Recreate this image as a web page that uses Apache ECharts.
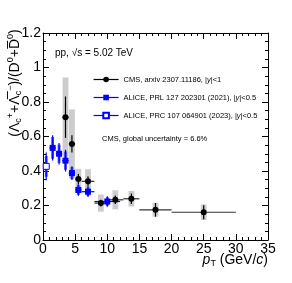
<!DOCTYPE html>
<html><head><meta charset="utf-8">
<script src="https://cdn.jsdelivr.net/npm/echarts@6/dist/echarts.min.js"></script>
<style>html,body{margin:0;padding:0;background:#fff}#c{width:292px;height:283px}</style>
</head><body><div id="c"></div>
<script>
// ---- data ----
const cmsX    = [3.5, 4.5, 5.5, 7, 9, 11.25, 13.75, 17.5, 25];
const cmsXlo  = [3, 4, 5, 6, 8, 10, 12.5, 15, 20];
const cmsXhi  = [4, 5, 6, 8, 10, 12.5, 15, 20, 30];
const cmsY    = [0.712, 0.557, 0.353, 0.340, 0.214, 0.233, 0.239, 0.175, 0.161];
const cmsStat = [0.12, 0.05, 0.03, 0.03, 0.02, 0.025, 0.03, 0.04, 0.04];
const cmsSys  = [0.23, 0.20, 0.06, 0.07, 0.05, 0.055, 0.045, 0.04, 0.045];

const a21X    = [1.5, 2.5, 3.5, 4.5, 5.5, 7, 10];
const a21Xlo  = [1, 2, 3, 4, 5, 6, 8];
const a21Xhi  = [2, 3, 4, 5, 6, 8, 12];
const a21Y    = [0.534, 0.500, 0.460, 0.388, 0.290, 0.280, 0.223];
const a21Stat = [0.073, 0.063, 0.063, 0.040, 0.033, 0.030, 0.030];
const a21Sys  = [0.063, 0.053, 0.053, 0.035, 0.028, 0.025, 0.025];

const a23X    = [0.5];
const a23Xlo  = [0];
const a23Xhi  = [1];
const a23Y    = [0.427];
const a23Stat = [0.08];
const a23Sys  = [0.06];

const xTicks = {min: 0, max: 35, interval: 5};
const yTicks = {min: 0, max: 1.2, interval: 0.2};

const nameCMS = 'CMS, arxiv 2307.11186, |y|<1';
const nameA21 = 'ALICE, PRL 127 202301 (2021), |y|<0.5';
const nameA23 = 'ALICE, PRC 107 064901 (2023), |y|<0.5';
const legendRich = {};
legendRich[nameCMS] = 'CMS, arxiv 2307.11186, |{i|y}|<1';
legendRich[nameA21] = 'ALICE, PRL 127 202301 (2021), |{i|y}|<0.5';
legendRich[nameA23] = 'ALICE, PRC 107 064901 (2023), |{i|y}|<0.5';

const FONT = '"Liberation Sans", Arial, Helvetica, sans-serif';
const BLUE = '#0000ff';
const BLUEBOX = '#4a4aff';

function boxSeries(xs, ys, sys, halfW, color, z) {
  return {
    type: 'custom', z: z, silent: true, clip: false,
    data: xs.map((x, i) => [x, ys[i], sys[i]]),
    renderItem(params, api) {
      const x = api.value(0), y = api.value(1), s = api.value(2);
      const p1 = api.coord([x - halfW, y + s]);
      const p2 = api.coord([x + halfW, y - s]);
      return {type: 'rect', shape: {x: p1[0], y: p1[1], width: p2[0] - p1[0], height: p2[1] - p1[1]},
              style: {fill: color}};
    }
  };
}
function barSeries(xs, ys, stat, lo, hi, vcolor, hcolor, z) {
  return {
    type: 'custom', z: z, silent: true, clip: false,
    data: xs.map((x, i) => [x, ys[i], stat[i], lo[i], hi[i]]),
    renderItem(params, api) {
      const x = api.value(0), y = api.value(1), s = api.value(2), l = api.value(3), h = api.value(4);
      const t = api.coord([x, y + s]), b = api.coord([x, y - s]);
      const L = api.coord([l, y]), R = api.coord([h, y]);
      return {type: 'group', children: [
        {type: 'line', shape: {x1: L[0], y1: L[1], x2: R[0], y2: R[1]}, style: {stroke: hcolor, lineWidth: 1.2}},
        {type: 'line', shape: {x1: t[0], y1: t[1], x2: b[0], y2: b[1]}, style: {stroke: vcolor, lineWidth: 1.2}}
      ]};
    }
  };
}

function xAxisDef(pos, labels) {
  return {
    type: 'value', position: pos, min: xTicks.min, max: xTicks.max, interval: xTicks.interval,
    axisLine: {show: true, onZero: false, lineStyle: {color: '#000', width: 1}},
    axisTick: {show: true, inside: true, length: 6, lineStyle: {color: '#000', width: 1}},
    minorTick: {show: true, splitNumber: 5, length: 3, lineStyle: {color: '#000', width: 1}},
    splitLine: {show: false}, minorSplitLine: {show: false},
    axisLabel: {show: labels, fontSize: 14, color: '#000', fontFamily: FONT, margin: 2,
                showMinLabel: true, showMaxLabel: true}
  };
}
function yAxisDef(pos, labels) {
  return {
    type: 'value', position: pos, min: yTicks.min, max: yTicks.max, interval: yTicks.interval,
    axisLine: {show: true, onZero: false, lineStyle: {color: '#000', width: 1}},
    axisTick: {show: true, inside: true, length: 6, lineStyle: {color: '#000', width: 1}},
    minorTick: {show: true, splitNumber: 4, length: 3, lineStyle: {color: '#000', width: 1}},
    splitLine: {show: false}, minorSplitLine: {show: false},
    axisLabel: {show: labels, fontSize: 14, color: '#000', fontFamily: FONT, margin: 2,
                showMinLabel: true, showMaxLabel: true}
  };
}

const chart = echarts.init(document.getElementById('c'), null, {renderer: 'canvas'});
const supSub = {
  b: {fontSize: 14, fontFamily: FONT, color: '#000', lineHeight: 22},
  sub: {fontSize: 9, fontFamily: FONT, color: '#000', padding: [7, 0, 0, 0]},
  sup: {fontSize: 9, fontFamily: FONT, color: '#000', padding: [0, 0, 9, 0]},
  i: {fontSize: 14, fontFamily: FONT, color: '#000', fontStyle: 'italic', lineHeight: 22}
};
chart.setOption({
  animation: false,
  backgroundColor: '#fff',
  grid: {left: 43, right: 24, top: 33, bottom: 43, containLabel: false, outerBoundsMode: 'none'},
  xAxis: [xAxisDef('bottom', true), xAxisDef('top', false)],
  yAxis: [yAxisDef('left', true), yAxisDef('right', false)],
  legend: {
    orient: 'vertical', left: 93, top: 75.5, padding: 0, itemWidth: 25, itemHeight: 7, itemGap: 10,
    selectedMode: false, data: [nameCMS, nameA21, nameA23],
    lineStyle: {width: 1.2},
    textStyle: {fontSize: 7.5, color: '#000', fontFamily: FONT,
                rich: {i: {fontSize: 7.5, fontStyle: 'italic', color: '#000', fontFamily: FONT}}},
    formatter: n => legendRich[n]
  },
  graphic: [
    {type: 'text', x: 55, y: 53, silent: true,
     style: {text: 'pp, √s = 5.02 TeV', fontSize: 10, fontFamily: FONT, fill: '#000',
             align: 'left', verticalAlign: 'middle'}},
    {type: 'text', x: 102, y: 139, silent: true,
     style: {text: 'CMS, global uncertainty = 6.6%', fontSize: 7.5, fontFamily: FONT, fill: '#000',
             align: 'left', verticalAlign: 'middle'}},
    {type: 'text', x: 268, y: 260, silent: true,
     style: {text: '{i|p}{sub|T}{b| (GeV/}{i|c}{b|)}', rich: supSub, align: 'right', verticalAlign: 'middle'}},
    {type: 'text', x: 15, y: 83, rotation: Math.PI / 2, silent: true,
     style: {text: '{b|(Λ}{sub|c}{sup|+}{b|+Λ\u0305}{sub|c}{sup|\u2212}{b|)/(D}{sup|0}{b|+D\u0305}{sup|0}{b|)}',
             rich: supSub, align: 'center', verticalAlign: 'middle'}}
  ],
  series: [
    boxSeries(cmsX, cmsY, cmsSys, 0.45, '#cccccc', 1),
    boxSeries(a21X, a21Y, a21Sys, 0.22, BLUEBOX, 3),
    boxSeries(a23X, a23Y, a23Sys, 0.22, BLUEBOX, 3),
    barSeries(cmsX, cmsY, cmsStat, cmsXlo, cmsXhi, '#000', '#333', 4),
    barSeries(a21X, a21Y, a21Stat, a21Xlo, a21Xhi, BLUE, BLUE, 4),
    barSeries(a23X, a23Y, a23Stat, a23Xlo, a23Xhi, BLUE, BLUE, 4),
    {type: 'line', name: nameCMS, z: 6, data: cmsX.map((x, i) => [x, cmsY[i]]),
     symbol: 'circle', symbolSize: 6, showSymbol: true, clip: false,
     itemStyle: {color: '#000'}, lineStyle: {width: 0, color: '#000'}},
    {type: 'line', name: nameA21, z: 6, data: a21X.map((x, i) => [x, a21Y[i]]),
     symbol: 'rect', symbolSize: 6, showSymbol: true, clip: false,
     itemStyle: {color: BLUE}, lineStyle: {width: 0, color: BLUE}},
    {type: 'line', name: nameA23, z: 6, data: a23X.map((x, i) => [x, a23Y[i]]),
     symbol: 'rect', symbolSize: 6, showSymbol: true, clip: false,
     itemStyle: {color: '#fff', borderColor: BLUE, borderWidth: 1}, lineStyle: {width: 0, color: BLUE}}
  ]
});
</script></body></html>
